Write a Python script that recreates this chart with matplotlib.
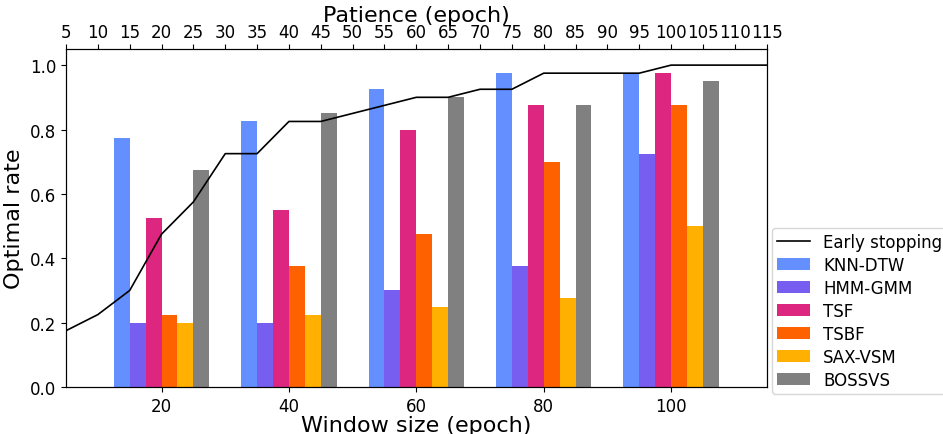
import numpy as np
from matplotlib import pyplot as plt

# window sizes (bottom axis) and the methods
windows = [20, 40, 60, 80, 100]
methods = ["KNN-DTW", "HMM-GMM", "TSF", "TSBF", "SAX-VSM", "BOSSVS"]
knn_dtw = [0.775, 0.825, 0.925, 0.975, 0.975]
hmm_gmm = [0.2, 0.2, 0.3, 0.375, 0.725]
tsf = [0.525, 0.55, 0.8, 0.875, 0.975]
tsbf = [0.225, 0.375, 0.475, 0.7, 0.875]
sax_vsm = [0.2, 0.225, 0.25, 0.275, 0.5]
bossvs = [0.675, 0.85, 0.9, 0.875, 0.95]

# patience (top axis) for early stopping
patience = [5, 10, 15, 20, 25, 30, 35, 40, 45, 50, 55, 60,
            65, 70, 75, 80, 85, 90, 95, 100, 105, 110, 115]
early_stop = [0.175, 0.225, 0.3, 0.475, 0.575, 0.725, 0.725, 0.825, 0.825, 0.85, 0.875, 0.9,
              0.9, 0.925, 0.925, 0.975, 0.975, 0.975, 0.975, 1.0, 1.0, 1.0, 1.0]

colors = ["#648FFF", "#785EF0", "#DC267F", "#FE6100", "#FFB000", "#808080"]
series = [knn_dtw, hmm_gmm, tsf, tsbf, sax_vsm, bossvs]

fig = plt.figure(figsize=(9.43, 4.35), dpi=100)
ax = fig.add_axes([0.07, 0.108, 0.743, 0.777])

w = 2.5
x = np.array(windows)
bars = []
for i, (vals, name) in enumerate(zip(series, methods)):
    b = ax.bar(x + (i - 2.5) * w, vals, width=w, color=colors[i], label=name)
    bars.append(b)

ax.set_xlim(5, 115)
ax.set_ylim(0, 1.05)
ax.set_xticks(windows)
ax.tick_params(labelsize=12)
ax.set_xlabel("Window size (epoch)", fontsize=16, labelpad=0)
ax.set_ylabel("Optimal rate", fontsize=16)

ax2 = ax.twiny()
line, = ax2.plot(patience, early_stop, color="black", lw=1.2, label="Early stopping")
ax2.set_xlim(5, 115)
ax2.set_xticks(patience)
ax2.tick_params(labelsize=12, pad=2)
ax2.set_xlabel("Patience (epoch)", fontsize=16, labelpad=2)

ax.legend([line] + bars, ["Early stopping"] + methods, loc="lower left",
          bbox_to_anchor=(1.007, -0.02), borderaxespad=0, fontsize=12,
          handlelength=2.0, labelspacing=0.3, borderpad=0.3)

plt.savefig("out.png")
